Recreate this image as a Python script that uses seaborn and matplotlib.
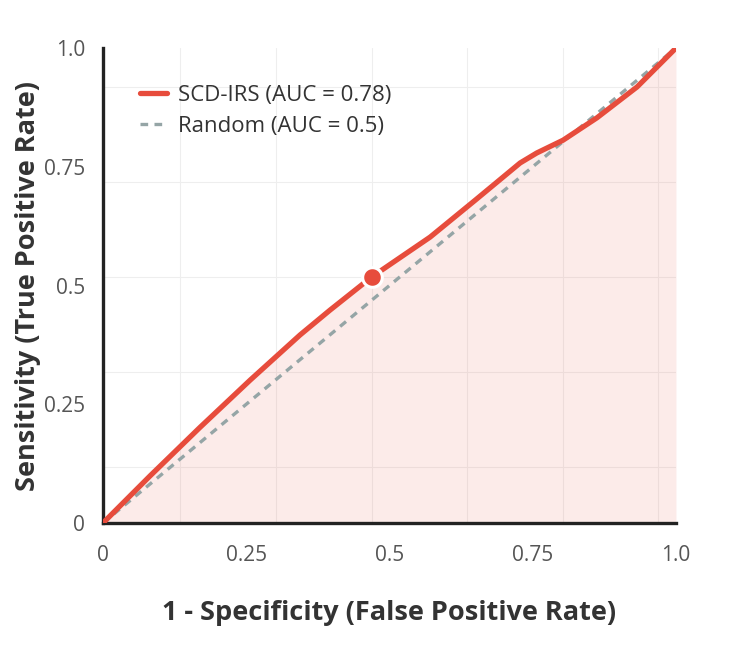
import matplotlib
matplotlib.use("Agg")
import matplotlib.pyplot as plt
import numpy as np
import pandas as pd
import seaborn as sns

# ROC curve
fpr = [0.0, 0.082, 0.169, 0.257, 0.344, 0.396, 0.469, 0.571, 0.650, 0.728, 0.757,
       0.803, 0.862, 0.932, 1.0]
tpr = [0.0, 0.099, 0.201, 0.301, 0.396, 0.448, 0.518, 0.602, 0.680, 0.758, 0.779,
       0.806, 0.853, 0.918, 1.0]
random_fpr = [0.0, 1.0]
random_tpr = [0.0, 1.0]
# highlighted operating point
op_fpr = [0.469]
op_tpr = [0.518]

tick_vals = [0, 0.25, 0.5, 0.75, 1.0]
tick_labels = ["0", "0.25", "0.5", "0.75", "1.0"]
grid_x = [0.134, 0.302, 0.469, 0.636, 0.802, 0.968]
grid_y = [0.118, 0.318, 0.518, 0.718, 0.918]

red = "#e74c3c"
grey = "#95a5a6"

sns.set_style("white")
plt.rcParams["font.family"] = ["Open Sans", "DejaVu Sans"]

roc = pd.DataFrame({"fpr": fpr, "tpr": tpr})
rnd = pd.DataFrame({"fpr": random_fpr, "tpr": random_tpr})

fig = plt.figure(figsize=(7.5, 6.55), dpi=100)
ax = fig.add_axes([0.1373, 0.2015, 0.764, 0.7252])

ax.fill_between(roc["fpr"], roc["tpr"], 0, color=red, alpha=0.11, linewidth=0, zorder=1)
sns.lineplot(data=roc, x="fpr", y="tpr", ax=ax, color=red, linewidth=3.8,
             label="SCD-IRS (AUC = 0.78)", zorder=4, solid_joinstyle="round")
sns.lineplot(data=rnd, x="fpr", y="tpr", ax=ax, color=grey, linewidth=2.4,
             linestyle=(0, (2.3, 1.9)), label="Random (AUC = 0.5)", zorder=3)
sns.scatterplot(x=op_fpr, y=op_tpr, ax=ax, color=red, s=200, edgecolor="white",
                linewidth=2.2, zorder=5)

ax.set_xlim(0, 1)
ax.set_ylim(0, 1)
ax.set_xticks(tick_vals)
ax.set_xticklabels(tick_labels)
ax.set_yticks(tick_vals)
ax.set_yticklabels(tick_labels)
ax.set_xticks(grid_x, minor=True)
ax.set_yticks(grid_y, minor=True)
ax.grid(False)
ax.grid(which="minor", color="#eeeeee", linewidth=0.8)
ax.tick_params(which="both", length=0)
ax.tick_params(which="major", labelsize=15, labelcolor="#555555")
ax.tick_params(axis="x", pad=16)
ax.tick_params(axis="y", pad=13)

for side in ["top", "right"]:
    ax.spines[side].set_visible(False)
for side in ["left", "bottom"]:
    ax.spines[side].set_color("#222222")
    ax.spines[side].set_linewidth(2.4)

ax.set_xlabel("1 - Specificity (False Positive Rate)", fontsize=19.5, fontweight="bold",
              color="#333333", labelpad=24)
ax.set_ylabel("Sensitivity (True Positive Rate)", fontsize=19.5, fontweight="bold",
              color="#333333", labelpad=2)

leg = ax.legend(loc="upper left", bbox_to_anchor=(0.03, 0.965), frameon=False,
                fontsize=16, handlelength=1.2, handletextpad=0.5, labelspacing=0.45)
for t in leg.get_texts():
    t.set_color("#333333")

fig.savefig("out.png", dpi=100)
